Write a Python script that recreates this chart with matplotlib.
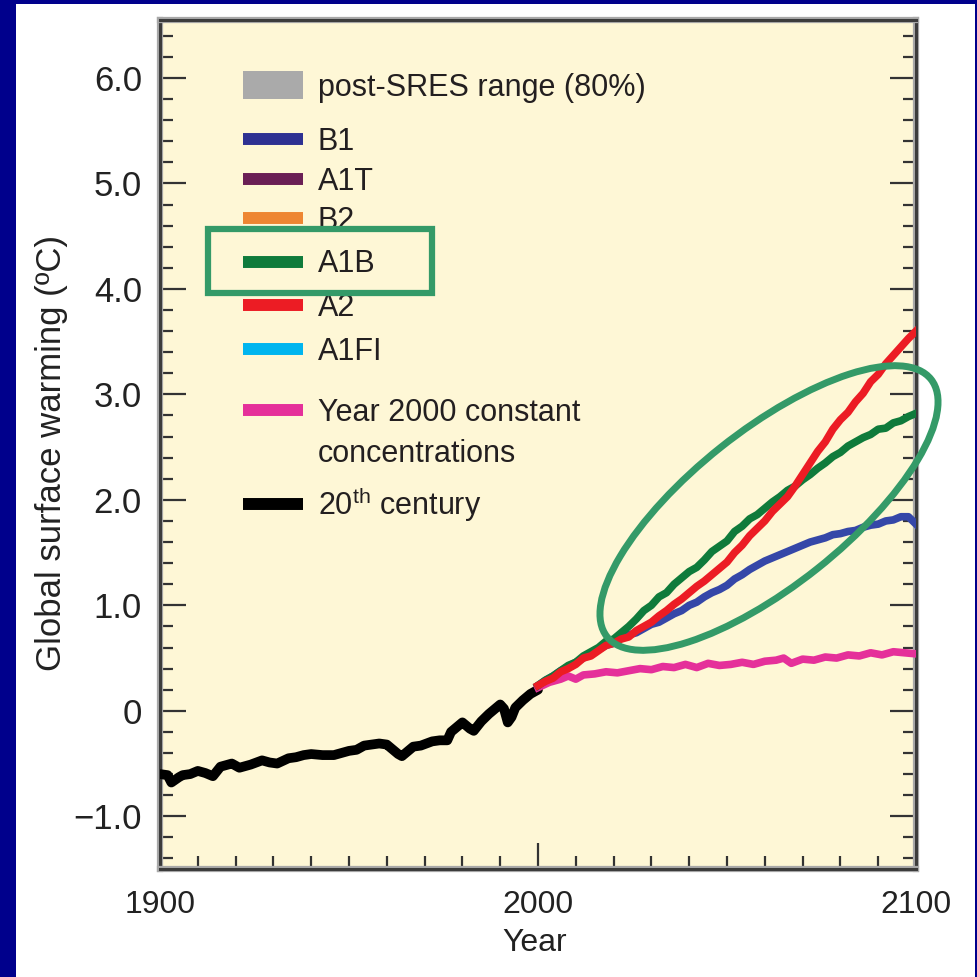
import matplotlib
matplotlib.use('Agg')
import matplotlib.pyplot as plt
from matplotlib.lines import Line2D
from matplotlib.patches import Rectangle, Ellipse
from matplotlib.ticker import MultipleLocator, FixedLocator, FuncFormatter
import matplotlib.patheffects as pe

plt.rcParams['font.family'] = ['Liberation Sans', 'DejaVu Sans']
plt.rcParams['mathtext.fontset'] = 'custom'
plt.rcParams['mathtext.rm'] = 'Liberation Sans'
plt.rcParams['mathtext.it'] = 'Liberation Sans:italic'

# ---------------- data ----------------
hist_years = [1900, 1902, 1903, 1905, 1906, 1908, 1910, 1912, 1914, 1916, 1918, 1919,
              1921, 1924, 1927, 1929, 1931, 1934, 1936, 1938, 1940, 1943, 1946, 1948,
              1950, 1952, 1954, 1956, 1958, 1960, 1961, 1963, 1964, 1965, 1967, 1969,
              1972, 1974, 1976, 1977, 1979, 1980, 1982, 1983, 1985, 1987, 1988, 1990,
              1991, 1992, 1993, 1994, 1996, 1998, 2000]
hist_vals = [-0.60, -0.61, -0.68, -0.63, -0.61, -0.60, -0.57, -0.59, -0.62, -0.53, -0.51, -0.50,
             -0.54, -0.51, -0.47, -0.49, -0.50, -0.45, -0.44, -0.42, -0.41, -0.42, -0.42, -0.40,
             -0.38, -0.37, -0.33, -0.32, -0.31, -0.32, -0.35, -0.41, -0.43, -0.40, -0.34, -0.33,
             -0.29, -0.28, -0.28, -0.20, -0.14, -0.11, -0.17, -0.19, -0.10, -0.03, 0.00, 0.06,
             0.02, -0.11, -0.06, 0.03, 0.10, 0.16, 0.20]

proj_years = [2000, 2002, 2004, 2006, 2008, 2010, 2012, 2014, 2016, 2018, 2020, 2022, 2024,
              2026, 2028, 2030, 2032, 2034, 2036, 2038, 2040, 2042, 2044, 2046, 2048, 2050,
              2052, 2054, 2056, 2058, 2060, 2062, 2064, 2066, 2068, 2070, 2072, 2074, 2076,
              2078, 2080, 2082, 2084, 2086, 2088, 2090, 2092, 2094, 2096, 2098, 2100]
b1_vals = [0.24, 0.29, 0.33, 0.38, 0.42, 0.46, 0.50, 0.55, 0.58, 0.62, 0.64, 0.69, 0.72,
           0.74, 0.78, 0.82, 0.84, 0.88, 0.92, 0.95, 1.00, 1.03, 1.08, 1.12, 1.15, 1.19,
           1.25, 1.29, 1.34, 1.38, 1.42, 1.45, 1.48, 1.51, 1.54, 1.57, 1.60, 1.62, 1.64,
           1.67, 1.68, 1.70, 1.71, 1.74, 1.76, 1.77, 1.80, 1.81, 1.84, 1.84, 1.77]
a1b_vals = [0.24, 0.29, 0.33, 0.38, 0.43, 0.46, 0.52, 0.56, 0.60, 0.66, 0.68, 0.74, 0.80,
            0.87, 0.95, 1.00, 1.08, 1.12, 1.20, 1.26, 1.32, 1.36, 1.43, 1.51, 1.56, 1.61,
            1.70, 1.75, 1.82, 1.86, 1.92, 1.98, 2.03, 2.09, 2.13, 2.19, 2.24, 2.30, 2.35,
            2.41, 2.45, 2.51, 2.55, 2.59, 2.62, 2.67, 2.68, 2.73, 2.75, 2.79, 2.82]
a2_vals = [0.24, 0.28, 0.31, 0.37, 0.40, 0.44, 0.50, 0.52, 0.57, 0.62, 0.64, 0.68, 0.70,
           0.76, 0.80, 0.84, 0.90, 0.95, 1.01, 1.06, 1.12, 1.18, 1.23, 1.29, 1.35, 1.41,
           1.50, 1.57, 1.66, 1.73, 1.80, 1.89, 1.96, 2.03, 2.13, 2.24, 2.35, 2.46, 2.55,
           2.67, 2.76, 2.83, 2.93, 3.01, 3.12, 3.19, 3.29, 3.37, 3.45, 3.53, 3.60]

const_years = [2000, 2003, 2006, 2008, 2010, 2012, 2015, 2018, 2021, 2024, 2027, 2030, 2033,
               2036, 2039, 2042, 2045, 2048, 2051, 2054, 2057, 2060, 2063, 2065, 2067, 2070,
               2073, 2076, 2079, 2082, 2085, 2088, 2091, 2094, 2097, 2100]
const_vals = [0.22, 0.27, 0.30, 0.33, 0.30, 0.34, 0.35, 0.37, 0.36, 0.38, 0.40, 0.39, 0.42,
              0.41, 0.44, 0.41, 0.45, 0.43, 0.44, 0.46, 0.44, 0.47, 0.48, 0.50, 0.45, 0.49,
              0.48, 0.51, 0.50, 0.53, 0.52, 0.55, 0.53, 0.56, 0.55, 0.54]

legend_labels = ['post-SRES range (80%)', 'B1', 'A1T', 'B2', 'A1B', 'A2', 'A1FI',
                 'Year 2000 constant\nconcentrations', r'20$^{\mathrm{th}}$ century']
legend_colors = ['#AAAAAA', '#2E3192', '#6A1F55', '#EE8632', '#0F7B3B', '#EC1C24',
                 '#00B5EF', '#E5309A', '#000000']

x_major = [1900, 2000, 2100]

# ---------------- figure ----------------
W, H = 978, 977
fig = plt.figure(figsize=(W / 100, H / 100), dpi=100, facecolor='#00008C')
fig.add_artist(Rectangle((16 / W, 0), (975 - 16) / W, (H - 4) / H, transform=fig.transFigure,
                         facecolor='white', edgecolor='none', zorder=-1))

ax = fig.add_axes([160 / W, 1 - 869 / H, (916 - 160) / W, (869 - 20) / H])
ax.set_facecolor('#FEF7D6')
ax.set_xlim(1900, 2100)
ax.set_ylim(-1.5, 6.55)

ax.plot(hist_years, hist_vals, color=legend_colors[8], lw=7, solid_capstyle='round',
        solid_joinstyle='round', zorder=3)
ax.plot(const_years, const_vals, color=legend_colors[7], lw=5.5, solid_joinstyle='round', zorder=4)
ax.plot(proj_years, b1_vals, color='#3547A8', lw=5.5, solid_joinstyle='round', zorder=5)
ax.plot(proj_years, a1b_vals, color=legend_colors[4], lw=5.5, solid_joinstyle='round', zorder=6)
ax.plot(proj_years, a2_vals, color=legend_colors[5], lw=5.5, solid_joinstyle='round', zorder=7)

ax.xaxis.set_major_locator(FixedLocator(x_major))
ax.xaxis.set_minor_locator(MultipleLocator(10))
ax.yaxis.set_major_locator(MultipleLocator(1))
ax.yaxis.set_minor_locator(MultipleLocator(0.2))
ax.yaxis.set_major_formatter(FuncFormatter(
    lambda v, p: '0' if abs(v) < 1e-9 else f'{v:.1f}'.replace('-', '\u2212')))

ax.tick_params(axis='both', which='both', direction='in', color='#333333', width=1.6,
               labelcolor='#222222')
ax.tick_params(axis='y', which='both', left=True, right=True)
ax.tick_params(axis='x', which='both', top=False, bottom=True)
ax.tick_params(which='major', length=19)
ax.tick_params(which='minor', length=9.5)
ax.tick_params(axis='x', labelsize=23, pad=15)
ax.tick_params(axis='y', labelsize=25, pad=13)

for s in ax.spines.values():
    s.set_color('#3C3C3C')
    s.set_linewidth(2.2)
    s.set_path_effects([pe.Stroke(linewidth=4.5, foreground='#A8A8A8'), pe.Normal()])

ax.set_ylabel('Global surface warming (\u00baC)', fontsize=25, color='#222222')
ax.yaxis.set_label_coords(-0.1217, 0.4894)
ax.set_xlabel('Year', fontsize=23, color='#222222')
ax.xaxis.set_label_coords(0.496, -0.0695)

# ---------------- legend (manual) ----------------
row_centers = [85, 138.5, 178.5, 218, 261.5, 305, 348.5, 410, 503.5]
hx0, hx1, tx = 243, 303, 318
for i, (lab, col) in enumerate(zip(legend_labels, legend_colors)):
    cy = row_centers[i]
    if i == 0:
        fig.add_artist(Rectangle((hx0 / W, 1 - (cy + 14) / H), (hx1 - hx0) / W, 28 / H,
                                 transform=fig.transFigure, facecolor=col, edgecolor='none',
                                 zorder=3))
    else:
        fig.add_artist(Line2D([hx0 / W, hx1 / W], [1 - cy / H, 1 - cy / H],
                              transform=fig.transFigure, color=col, lw=8.6,
                              solid_capstyle='butt', zorder=3))
    lines = lab.split('\n')
    for j, line in enumerate(lines):
        fig.text(tx / W, 1 - (cy + 11 + j * 41.5) / H, line, fontsize=22, va='baseline',
                 ha='left', color='#231F20', zorder=4)

# ---------------- annotations ----------------
ann = '#349A68'
fig.add_artist(Rectangle((208 / W, 1 - 293 / H), 224 / W, 64 / H, transform=fig.transFigure,
                         fill=False, edgecolor=ann, lw=4.5, zorder=10))
fig.add_artist(Ellipse((769 / W, 1 - 508 / H), 414 / W, 155 / H, angle=38.5,
                       transform=fig.transFigure, fill=False, edgecolor=ann, lw=5, zorder=10))

fig.savefig('out.png', dpi=100, facecolor=fig.get_facecolor())
